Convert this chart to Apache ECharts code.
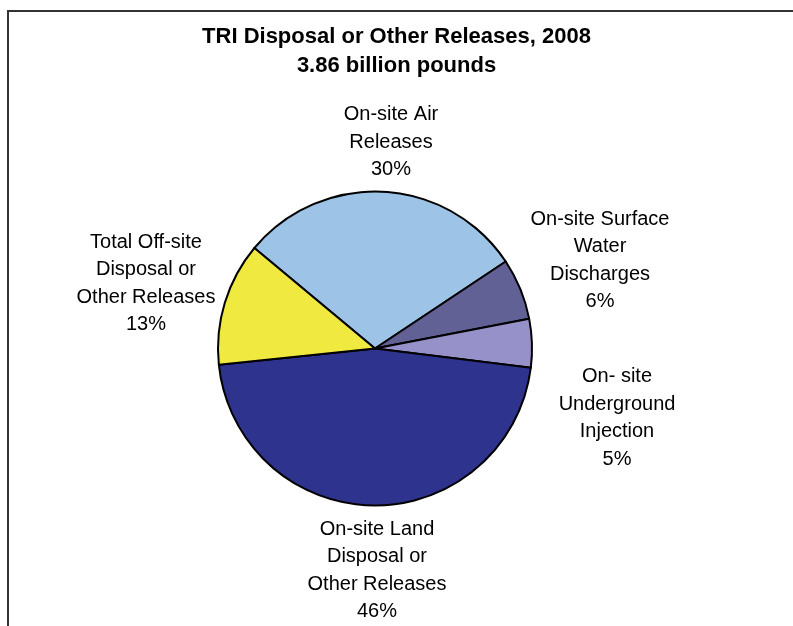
<!DOCTYPE html>
<html>
<head>
<meta charset="utf-8">
<script src="https://cdn.jsdelivr.net/npm/echarts@6/dist/echarts.min.js"></script>
<style>
html,body{margin:0;padding:0;background:#fff;}
#chart{width:793px;height:626px;}
</style>
</head>
<body>
<div id="chart"></div>
<script>
// Data
var categories = [
  'On-site Air\nReleases',
  'On-site Surface\nWater\nDischarges',
  'On- site\nUnderground\nInjection',
  'On-site Land\nDisposal or\nOther Releases',
  'Total Off-site\nDisposal or\nOther Releases'
];
var shares = [29.6, 6.3, 5.0, 46.4, 12.7]; // percent of 3.86 billion pounds
var titleLines = ['TRI Disposal or Other Releases, 2008', '3.86 billion pounds'];

// Styles / layout
var FONT = "'Liberation Sans', Arial, sans-serif";
var colors = ['#9DC3E6', '#616195', '#9791C9', '#2E338E', '#F0EA40'];
var labelCenters = [[391, 142], [600, 260.5], [617, 418], [377, 570.5], [146, 283.5]];

var chart = echarts.init(document.getElementById('chart'));
var total = shares.reduce(function (a, b) { return a + b; }, 0);

chart.setOption({
  backgroundColor: '#ffffff',
  animation: false,
  textStyle: { fontFamily: FONT },
  title: {
    text: titleLines.join('\n'),
    left: 'center',
    top: 22,
    padding: 0,
    textStyle: {
      fontFamily: FONT,
      fontSize: 22,
      fontWeight: 'bold',
      color: '#000',
      lineHeight: 29
    }
  },
  graphic: [{
    type: 'rect',
    shape: { x: 8, y: 11, width: 1000, height: 1000 },
    style: { fill: 'none', stroke: '#333', lineWidth: 2 },
    silent: true
  }],
  series: [{
    type: 'pie',
    center: [375, 348.5],
    radius: 157,
    startAngle: 140.2,
    clockwise: true,
    avoidLabelOverlap: false,
    data: categories.map(function (c, i) {
      return { name: c, value: shares[i], itemStyle: { color: colors[i] } };
    }),
    itemStyle: { borderColor: '#000', borderWidth: 2 },
    label: {
      show: true,
      position: 'outside',
      fontFamily: FONT,
      fontSize: 20,
      lineHeight: 27.5,
      color: '#000',
      align: 'center',
      formatter: function (p) {
        return p.name + '\n' + Math.round(p.value / total * 100) + '%';
      }
    },
    labelLine: { show: false },
    labelLayout: function (params) {
      var c = labelCenters[params.dataIndex];
      return { x: c[0], y: c[1], align: 'center', verticalAlign: 'middle' };
    },
    emphasis: { disabled: true }
  }]
});
</script>
</body>
</html>
